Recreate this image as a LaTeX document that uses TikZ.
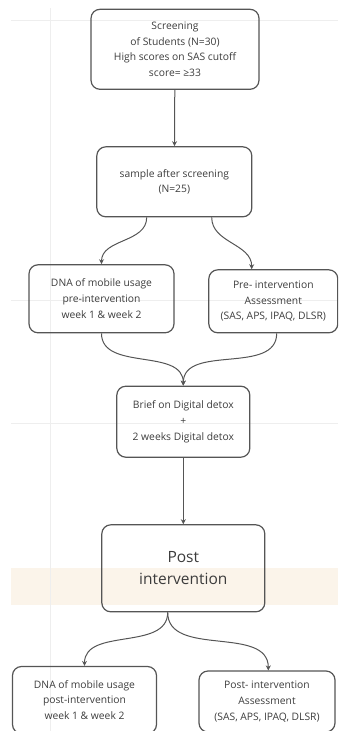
\documentclass[tikz,border=0pt]{standalone}
\usepackage{fontspec}
\setmainfont{Open Sans}
\usetikzlibrary{arrows.meta}
\definecolor{boxgray}{HTML}{555555}
\definecolor{txtgray}{HTML}{3C3C3C}
\definecolor{gridgray}{HTML}{EEEEEE}
\definecolor{bandbeige}{HTML}{FBF4EA}
\tikzset{
	stagebox/.style={draw=boxgray, line width=1.2pt, rounded corners=9pt, align=center,
		text=txtgray, font=\fontsize{10.3}{15.7}\selectfont, inner sep=2pt},
	bigbox/.style={stagebox, font=\fontsize{15.5}{22.3}\selectfont},
	flowarrow/.style={draw=boxgray, line width=1pt, -{Stealth[length=5pt,width=5pt]}}
}
\newcommand{\swoop}[2] % from, to
{
	\draw[flowarrow] (#1) to[out=-90, in=90] (#2);
}

\begin{document}
\begin{tikzpicture}[x=1pt, y=-1pt]
	% page: 338 x 731, y runs downwards
	\useasboundingbox (0,0) rectangle (338,731);
	\clip (0,0) rectangle (338,731);
	% faint grid and band behind the chart
	\fill[bandbeige] (11,568) rectangle (338,605);
	\draw[gridgray, line width=0.8pt] (11,20.7) -- (338,20.7);
	\draw[gridgray, line width=0.8pt] (11,300) -- (338,300);
	\draw[gridgray, line width=0.8pt] (11,423) -- (338,423);
	\draw[gridgray, line width=0.8pt] (50,8) -- (50,731);

	% boxes
	\node[stagebox, minimum width=168pt, minimum height=80pt] (screen) at (175,49.3)
		{Screening\\of Students (N=30)\\High scores on SAS cutoff\\score= ≥33};
	\node[stagebox, minimum width=155pt, minimum height=70pt] (sample) at (174.3,181.8)
		{sample after screening\\(N=25)};
	\node[stagebox, minimum width=145pt, minimum height=68pt] (dnapre) at (101.5,298.8)
		{DNA of mobile usage\\pre-intervention\\week 1 \& week 2};
	\node[stagebox, minimum width=129pt, minimum height=63pt] (assesspre) at (273.3,301.3)
		{Pre- intervention\\Assessment\\(SAS, APS, IPAQ, DLSR)};
	\node[stagebox, minimum width=133pt, minimum height=71pt] (detox) at (183.3,421.7)
		{Brief on Digital detox\\+\\2 weeks Digital detox};
	\node[bigbox, minimum width=163pt, minimum height=87pt] (post) at (183.3,568.3)
		{Post\\intervention};
	\node[stagebox, minimum width=144pt, minimum height=67pt] (dnapost) at (84.5,700)
		{DNA of mobile usage\\post-intervention\\week 1 \& week 2};
	\node[stagebox, minimum width=136pt, minimum height=61pt] (assesspost) at (267,701.5)
		{Post- intervention\\Assessment\\(SAS, APS, IPAQ, DLSR)};

	% connectors
	\draw[flowarrow] (screen) -- (sample);
	\swoop{[xshift=-27.6pt]sample.south}{dnapre.north}
	\swoop{[xshift=37.4pt]sample.south}{[xshift=-21.6pt]assesspre.north}
	\swoop{dnapre.south}{detox.north}
	\swoop{[xshift=3.4pt]assesspre.south}{detox.north}
	\draw[flowarrow] (detox) -- (post);
	\swoop{[xshift=-15.6pt]post.south}{dnapost.north}
	\swoop{[xshift=-15.6pt]post.south}{[xshift=1.3pt]assesspost.north}
\end{tikzpicture}
\end{document}
